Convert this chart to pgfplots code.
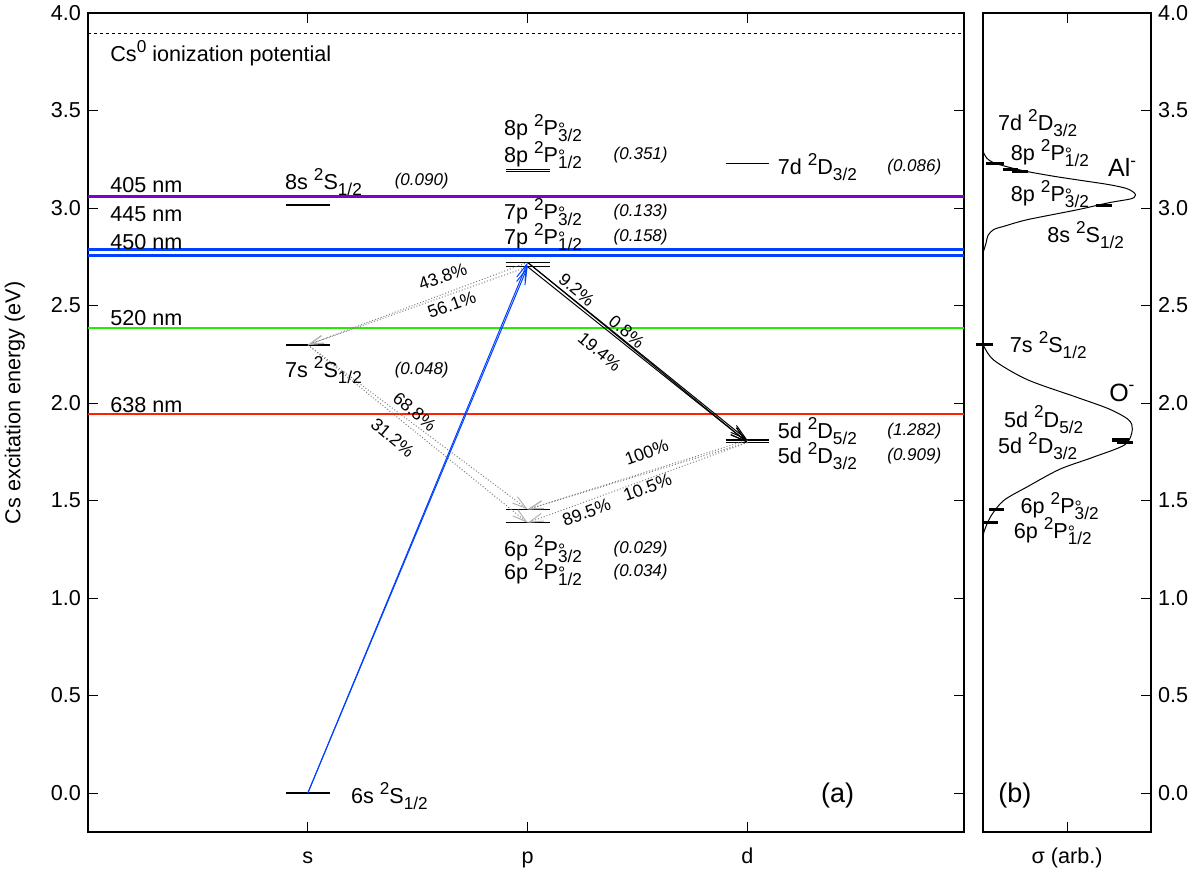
\documentclass[border=0pt]{standalone}
\usepackage{fontspec}
\setmainfont{Liberation Sans}
\usepackage{pgfplots}
\pgfplotsset{compat=1.18}
\usetikzlibrary{arrows.meta}
\definecolor{c405}{HTML}{7F00C7}
\definecolor{c445}{HTML}{0040FF}
\definecolor{c520}{HTML}{22EE00}
\definecolor{c638}{HTML}{FF2200}
\newcommand\lbl{\fontsize{10.8}{12}\selectfont}
\newcommand\val{\fontsize{8.5}{10}\selectfont\itshape}
\newcommand\pct{\fontsize{8.8}{10}\selectfont}
\newcommand\su[1]{\raisebox{0.42em}{\fontsize{8.6}{9}\selectfont #1}}
\newcommand\sbs[1]{\raisebox{-0.28em}{\fontsize{8.6}{9}\selectfont #1}}
\newcommand\St[1]{\su{2}S\sbs{#1}}
\newcommand\Dt[1]{\su{2}D\sbs{#1}}
\newcommand\Pt[1]{\su{2}P\rlap{\fontsize{9}{9}\selectfont °}\sbs{#1}}
\tikzset{
  lt/.style={font=\lbl, anchor=west, inner sep=0pt},
  vt/.style={font=\val, anchor=center, inner sep=0pt},
  pt/.style={font=\pct, anchor=center, inner sep=0pt},
}
\pgfplotsset{
  lev/.style={black, line width=0.65pt, forget plot},
  bar/.style={black, line width=1.6pt, forget plot},
  barb/.style={-{Straight Barb[length=8pt,width=4.5pt]}},
  dotarr/.style={gray, densely dotted, line width=0.5pt, -{Straight Barb[length=7pt,width=4pt,gray!60]}},
  common/.style={
    scale only axis, height=409.5pt, ymin=-0.2, ymax=4,
    ytick={0,0.5,1,1.5,2,2.5,3,3.5,4},
    tick align=inside, major tick length=4.8pt,
    tick style={black, line width=0.5pt},
    axis line style={line width=0.8pt},
    tick label style={font=\lbl},
    xticklabel style={anchor=base, yshift=-15.75pt},
    label style={font=\lbl},
    /pgf/number format/fixed, /pgf/number format/fixed zerofill,
    /pgf/number format/precision=1, /pgf/number format/assume math mode=true,
    clip=false,
  },
}
\begin{document}
\begin{tikzpicture}
\begin{axis}[common, name=pa, at={(0pt,0pt)}, anchor=south west,
  width=438pt, xmin=0, xmax=3.985,
  xtick={1,2,3}, xticklabels={s,p,d},
  ytick pos=both, yticklabel pos=left,
  ylabel={Cs excitation energy (eV)},
  every axis y label/.style={at={(axis description cs:-0.0835,0.524)}, rotate=90, anchor=center, font=\lbl},
]
% ionization potential
\addplot[black, line width=0.5pt, dash pattern=on 1.5pt off 1.5pt] coordinates {(0,3.894) (3.985,3.894)};
% laser lines
\addplot[c405, line width=1.5pt] coordinates {(0,3.0613) (3.985,3.0613)};
\addplot[c445, line width=1.3pt] coordinates {(0,2.7862) (3.985,2.7862)};
\addplot[c445, line width=1.3pt] coordinates {(0,2.7552) (3.985,2.7552)};
\addplot[c520, line width=1.1pt] coordinates {(0,2.3843) (3.985,2.3843)};
\addplot[c638, line width=1.1pt] coordinates {(0,1.9433) (3.985,1.9433)};
% levels
\addplot[lev] coordinates {(0.9,0) (1.1,0)};
\addplot[lev] coordinates {(0.9,2.2981) (1.1,2.2981)};
\addplot[lev] coordinates {(0.9,3.0149) (1.1,3.0149)};
\addplot[lev] coordinates {(1.9,1.3859) (2.1,1.3859)};
\addplot[lev] coordinates {(1.9,1.4546) (2.1,1.4546)};
\addplot[lev] coordinates {(1.9,2.6986) (2.1,2.6986)};
\addplot[lev] coordinates {(1.9,2.7210) (2.1,2.7210)};
\addplot[lev] coordinates {(1.9,3.1875) (2.1,3.1875)};
\addplot[lev] coordinates {(1.9,3.1977) (2.1,3.1977)};
\addplot[lev] coordinates {(2.9,1.7977) (3.1,1.7977)};
\addplot[lev] coordinates {(2.9,1.8098) (3.1,1.8098)};
\addplot[lev] coordinates {(2.9,3.2295) (3.1,3.2295)};
% dotted decays
\addplot[dotarr] coordinates {(2,2.6986) (1,2.2981)};
\addplot[dotarr] coordinates {(2,2.7210) (1,2.2981)};
\addplot[dotarr] coordinates {(1,2.2981) (2,1.4546)};
\addplot[dotarr] coordinates {(1,2.2981) (2,1.3859)};
\addplot[dotarr] coordinates {(3,1.8098) (2,1.4546)};
\addplot[dotarr] coordinates {(3,1.7977) (2,1.4546)};
\addplot[dotarr] coordinates {(3,1.7977) (2,1.3859)};
% excitation
\addplot[c445, line width=0.5pt, barb] coordinates {(1,0) (2,2.6986)};
\addplot[c445, line width=0.5pt, barb] coordinates {(1,0) (2,2.7210)};
% 7p -> 5d
\addplot[black, line width=0.5pt, barb] coordinates {(2,2.7210) (3,1.8098)};
\addplot[black, line width=0.5pt, barb] coordinates {(2,2.7210) (3,1.7977)};
\addplot[black, line width=0.5pt, barb] coordinates {(2,2.6986) (3,1.7977)};
% texts
\node[lt] at (axis cs:0.1,3.795) {Cs\su{0} ionization potential};
\node[lt] at (axis cs:0.1,3.12) {405 nm};
\node[lt] at (axis cs:0.1,2.97) {445 nm};
\node[lt] at (axis cs:0.1,2.827) {450 nm};
\node[lt] at (axis cs:0.1,2.438) {520 nm};
\node[lt] at (axis cs:0.1,1.99) {638 nm};
\node[lt] at (axis cs:0.895,3.135) {8s \St{1/2}};
\node[vt] at (axis cs:1.518,3.14) {(0.090)};
\node[lt] at (axis cs:0.895,2.17) {7s \St{1/2}};
\node[vt] at (axis cs:1.518,2.17) {(0.048)};
\node[lt] at (axis cs:1.195,-0.015) {6s \St{1/2}};
\node[lt] at (axis cs:1.891,3.41) {8p \Pt{3/2}};
\node[lt] at (axis cs:1.891,3.27) {8p \Pt{1/2}};
\node[vt] at (axis cs:2.514,3.27) {(0.351)};
\node[lt] at (axis cs:1.891,2.98) {7p \Pt{3/2}};
\node[vt] at (axis cs:2.514,2.98) {(0.133)};
\node[lt] at (axis cs:1.891,2.853) {7p \Pt{1/2}};
\node[vt] at (axis cs:2.514,2.853) {(0.158)};
\node[lt] at (axis cs:1.891,1.25) {6p \Pt{3/2}};
\node[vt] at (axis cs:2.514,1.25) {(0.029)};
\node[lt] at (axis cs:1.891,1.132) {6p \Pt{1/2}};
\node[vt] at (axis cs:2.514,1.132) {(0.034)};
\node[lt] at (axis cs:3.136,3.21) {7d \Dt{3/2}};
\node[vt] at (axis cs:3.759,3.21) {(0.086)};
\node[lt] at (axis cs:3.136,1.854) {5d \Dt{5/2}};
\node[vt] at (axis cs:3.759,1.854) {(1.282)};
\node[lt] at (axis cs:3.136,1.726) {5d \Dt{3/2}};
\node[vt] at (axis cs:3.759,1.726) {(0.909)};
\node[font=\fontsize{13.5}{15}\selectfont, inner sep=0pt] at (axis cs:3.41,-0.015) {(a)};
% percentages
\node[pt, rotate=20] at (axis cs:1.614,2.648) {43.8\%};
\node[pt, rotate=20] at (axis cs:1.655,2.504) {56.1\%};
\node[pt, rotate=-40] at (axis cs:2.223,2.581) {9.2\%};
\node[pt, rotate=-40] at (axis cs:2.45,2.366) {0.8\%};
\node[pt, rotate=-40] at (axis cs:2.327,2.264) {19.4\%};
\node[pt, rotate=-40] at (axis cs:1.486,1.956) {68.8\%};
\node[pt, rotate=-40] at (axis cs:1.386,1.823) {31.2\%};
\node[pt, rotate=20] at (axis cs:2.541,1.746) {100\%};
\node[pt, rotate=20] at (axis cs:2.545,1.567) {10.5\%};
\node[pt, rotate=20] at (axis cs:2.268,1.44) {89.5\%};
\end{axis}
\begin{axis}[common, name=pb, at={(447.5pt,0pt)}, anchor=south west,
  width=84pt, xmin=0, xmax=1,
  xtick={0.5}, xticklabels={σ (arb.)},
  ytick pos=right, yticklabel pos=right,
]
\addplot[black, line width=0.5pt, smooth, tension=0.5] coordinates {
 (0,3.29) (0.023,3.255) (0.064,3.232) (0.15,3.21) (0.263,3.187) (0.42,3.163)
 (0.556,3.145) (0.749,3.12) (0.854,3.10) (0.9,3.078) (0.906,3.063) (0.88,3.047)
 (0.749,3.027) (0.556,2.99) (0.263,2.94) (0.12,2.905) (0.064,2.89) (0.03,2.86) (0.018,2.82) (0,2.77)};
\addplot[black, line width=0.5pt, smooth, tension=0.5] coordinates {
 (0,2.30) (0.064,2.22) (0.263,2.12) (0.556,2.03) (0.749,1.97) (0.865,1.915)
 (0.889,1.865) (0.846,1.787) (0.649,1.72) (0.456,1.66) (0.263,1.57) (0.123,1.50)
 (0.047,1.42) (0.006,1.34) (0,1.30)};
\addplot[black, line width=0.5pt] coordinates {(0,1.30) (0,1.12)};
% level bars
\addplot[bar] coordinates {(0.018,3.2295) (0.123,3.2295)};
\addplot[bar] coordinates {(0.117,3.1977) (0.21,3.1977)};
\addplot[bar] coordinates {(0.175,3.1875) (0.27,3.1875)};
\addplot[bar] coordinates {(0.67,3.0149) (0.765,3.0149)};
\addplot[bar] coordinates {(-0.04,2.2981) (0.06,2.2981)};
\addplot[bar] coordinates {(0.77,1.8098) (0.87,1.8098)};
\addplot[bar] coordinates {(0.80,1.7977) (0.895,1.7977)};
\addplot[bar] coordinates {(0.035,1.4546) (0.123,1.4546)};
\addplot[bar] coordinates {(0,1.3859) (0.088,1.3859)};
% labels
\node[lt] at (axis cs:0.088,3.437) {7d \Dt{3/2}};
\node[lt] at (axis cs:0.164,3.283) {8p \Pt{1/2}};
\node[lt, font=\fontsize{12.5}{14}\selectfont] at (axis cs:0.743,3.206) {Al\su{-}};
\node[lt] at (axis cs:0.164,3.073) {8p \Pt{3/2}};
\node[lt] at (axis cs:0.38,2.863) {8s \St{1/2}};
\node[lt] at (axis cs:0.158,2.295) {7s \St{1/2}};
\node[lt, font=\fontsize{12.5}{14}\selectfont] at (axis cs:0.749,2.054) {O\su{-}};
\node[lt] at (axis cs:0.123,1.915) {5d \Dt{5/2}};
\node[lt] at (axis cs:0.088,1.777) {5d \Dt{3/2}};
\node[lt] at (axis cs:0.222,1.47) {6p \Pt{3/2}};
\node[lt] at (axis cs:0.181,1.342) {6p \Pt{1/2}};
\node[font=\fontsize{13.5}{15}\selectfont, inner sep=0pt] at (axis cs:0.19,-0.015) {(b)};
\end{axis}
\pgfresetboundingbox
\useasboundingbox (-44pt,-21pt) rectangle (557pt,416pt);
\end{tikzpicture}
\end{document}
